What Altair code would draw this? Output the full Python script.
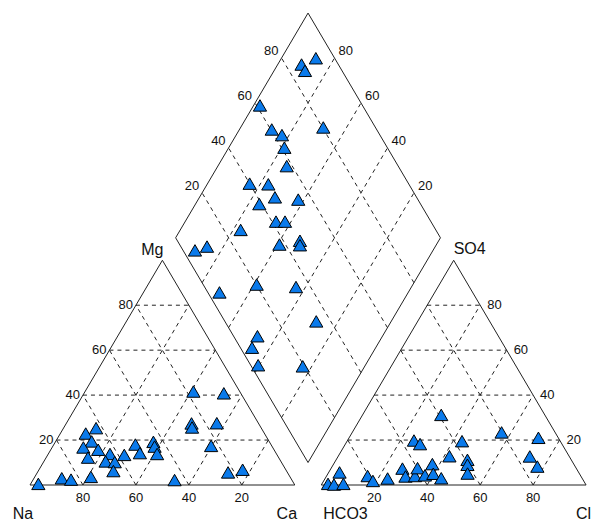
import altair as alt
import numpy as np
import pandas as pd

# ---------------- data ----------------
# cation triangle (Na left corner, Ca right corner, Mg apex): Mg %, Ca %
cat_mg = [0.5, 3.0, 2.4, 3.6, 22.9, 25.3, 19.4, 16.7, 15.7, 12.2, 13.8, 10.5, 10.2, 6.2,
          13.4, 18.0, 14.2, 19.2, 17.1, 13.8, 2.2, 41.6, 40.8, 27.4, 25.6, 27.5, 17.4, 5.6, 6.8]
cat_ca = [2.9, 10.5, 14.3, 21.2, 9.6, 12.3, 13.6, 11.8, 17.9, 15.8, 23.3, 23.3, 26.9, 28.4,
          28.9, 30.8, 34.4, 37.0, 38.5, 41.1, 53.5, 40.9, 52.8, 47.3, 48.4, 56.8, 59.7, 72.0, 76.9]

# anion triangle (HCO3 left corner, Cl right corner, SO4 apex): SO4 %, Cl %
an_so4 = [0.5, 0.2, 0.5, 5.6, 4.0, 1.8, 2.9, 7.3, 3.8, 4.0, 7.5, 4.3, 9.3, 5.0, 3.0,
          19.8, 18.2, 31.2, 12.8, 19.5, 11.2, 9.0, 5.1, 23.4, 21.0, 12.7, 8.2]
an_cl = [2.3, 4.7, 8.1, 4.1, 15.5, 18.6, 23.6, 27.0, 29.9, 33.4, 32.6, 37.0, 37.3, 39.8, 43.8,
         25.1, 28.2, 29.7, 42.0, 43.4, 49.6, 50.7, 52.7, 56.4, 71.5, 72.4, 77.5]

# diamond: (Mg+Na) %, (SO4+Cl) %
dia_mgna = [87.0, 91.0, 88.3, 97.6, 87.8, 82.7, 68.8, 79.0, 74.0, 84.1, 76.9, 71.5, 75.9, 62.2,
            65.7, 62.3, 77.2, 89.9, 86.2, 59.3, 52.4, 51.4, 71.3, 59.0, 43.6, 28.3, 47.2, 46.7,
            40.5, 23.4]
dia_so4cl = [92.9, 86.1, 86.0, 61.3, 60.4, 63.0, 80.3, 61.1, 57.9, 40.0, 46.9, 46.5, 39.1, 54.8,
             41.5, 44.9, 26.3, 4.5, 9.9, 37.7, 46.3, 45.3, 4.4, 20.2, 34.5, 34.5, 9.0, 4.4,
             2.8, 19.4]

ticks = [20, 40, 60, 80]
cation_corners = ["Na", "Ca", "Mg"]
anion_corners = ["HCO3", "Cl", "SO4"]

# ---------------- geometry of the Piper layout ----------------
H3 = np.sqrt(3) / 2
GAP = 10.0
AX = 100 + GAP            # x offset of anion triangle
BX, BY = 100 + GAP / 2, GAP * H3   # bottom vertex of the diamond
UL = np.array([-0.5, H3])
UR = np.array([0.5, H3])

segs_solid, segs_dash = [], []

def seg(lst, p, q):
    lst.append({"x": p[0], "y": p[1], "x2": q[0], "y2": q[1]})

for ox in (0.0, AX):
    seg(segs_solid, (ox, 0), (ox + 100, 0))
    seg(segs_solid, (ox + 100, 0), (ox + 50, 100 * H3))
    seg(segs_solid, (ox + 50, 100 * H3), (ox, 0))
    for v in ticks:
        seg(segs_dash, (ox + v / 2, v * H3), (ox + 100 - v / 2, v * H3))
        seg(segs_dash, (ox + v, 0), (ox + 50 + v / 2, (100 - v) * H3))
        seg(segs_dash, (ox + v, 0), (ox + v / 2, v * H3))

B = np.array([BX, BY])
dl, dt, dr = B + 100 * UL, B + 100 * UL + 100 * UR, B + 100 * UR
seg(segs_solid, B, dl)
seg(segs_solid, dl, dt)
seg(segs_solid, dt, dr)
seg(segs_solid, dr, B)
for v in ticks:
    s = B + v * UL
    seg(segs_dash, s, s + 100 * UR)
    s = B + v * UR
    seg(segs_dash, s, s + 100 * UL)

solid = pd.DataFrame(segs_solid)
dash = pd.DataFrame(segs_dash)

mg, ca = np.array(cat_mg), np.array(cat_ca)
so4, cl = np.array(an_so4), np.array(an_cl)
a, b = np.array(dia_mgna), np.array(dia_so4cl)
pts = pd.DataFrame({
    "x": np.concatenate([ca + mg / 2, AX + cl + so4 / 2, BX + (b - a) / 2]),
    "y": np.concatenate([mg * H3, so4 * H3, BY + (a + b) * H3]),
})

# ---------------- scales (no axes) ----------------
W, HGT = 584, 513
KX, KY = 2.648, 2.595
X0 = -22 / KX
Y1 = 477 / KY
xs = alt.Scale(domain=[X0, X0 + W / KX], nice=False, zero=False)
ys = alt.Scale(domain=[Y1 - HGT / KY, Y1], nice=False, zero=False)

def X(f="x"):
    return alt.X(f"{f}:Q", scale=xs, axis=None)

def Y(f="y"):
    return alt.Y(f"{f}:Q", scale=ys, axis=None)

FONT = "Liberation Sans"
TXT = "#111111"

solid_l = alt.Chart(solid).mark_rule(color="#222222", strokeWidth=1).encode(
    x=X(), y=Y(), x2="x2:Q", y2="y2:Q")
dash_l = alt.Chart(dash).mark_rule(color="#222222", strokeWidth=1, strokeDash=[4, 4]).encode(
    x=X(), y=Y(), x2="x2:Q", y2="y2:Q")
pts_l = alt.Chart(pts).mark_point(shape="triangle-up", filled=True, size=175,
                                   fill="#0A7AEB", stroke="#000000", strokeWidth=1,
                                   opacity=1).encode(x=X(), y=Y())

def text_layer(df, **kw):
    base = dict(font=FONT, fontSize=13, color=TXT)
    base.update(kw)
    return alt.Chart(df).mark_text(**base).encode(x=X(), y=Y(), text="t:N")

tv = np.array(ticks, dtype=float)
lab = [str(t) for t in ticks]
bottom_left = pd.DataFrame({"x": tv, "y": 0.0, "t": [str(100 - t) for t in ticks]})
bottom_right = pd.DataFrame({"x": AX + tv, "y": 0.0, "t": lab})
mg_lab = pd.DataFrame({"x": tv / 2, "y": tv * H3, "t": lab})
so4_lab = pd.DataFrame({"x": AX + 100 - tv / 2, "y": tv * H3, "t": lab})
dleft = pd.DataFrame({"x": BX - 50 + tv / 2, "y": BY + (100 + tv) * H3, "t": lab})
dright = pd.DataFrame({"x": BX + 50 - tv / 2, "y": BY + (100 + tv) * H3, "t": lab})

layers = [
    dash_l, solid_l,
    text_layer(pd.concat([bottom_left, bottom_right]), align="center", baseline="middle", dy=13),
    text_layer(mg_lab, align="right", baseline="middle", dx=-3),
    text_layer(so4_lab, align="left", baseline="middle", dx=7),
    text_layer(dleft, align="right", baseline="middle", dx=-3, dy=-7),
    text_layer(dright, align="left", baseline="middle", dx=4, dy=-7),
]

corner_specs = [
    (cation_corners[0], 0.0, 0.0, "center", -7, 34),
    (cation_corners[1], 100.0, 0.0, "center", -8, 34),
    (cation_corners[2], 50.0, 100 * H3, "center", -10, -5),
    (anion_corners[0], AX, 0.0, "left", 2, 34),
    (anion_corners[1], AX + 100, 0.0, "right", 5, 34),
    (anion_corners[2], AX + 50, 100 * H3, "left", 0, -6),
]
for name, cx, cy, al, ddx, ddy in corner_specs:
    layers.append(text_layer(pd.DataFrame({"x": [cx], "y": [cy], "t": [name]}),
                             fontSize=16, align=al, baseline="alphabetic", dx=ddx, dy=ddy))

layers.append(pts_l)

chart = alt.layer(*layers).properties(
    width=W, height=HGT, padding=0,
    autosize=alt.AutoSizeParams(type="none"),
).configure_view(strokeWidth=0)

chart.save("out.html", embed_options={"renderer": "svg", "actions": False})
